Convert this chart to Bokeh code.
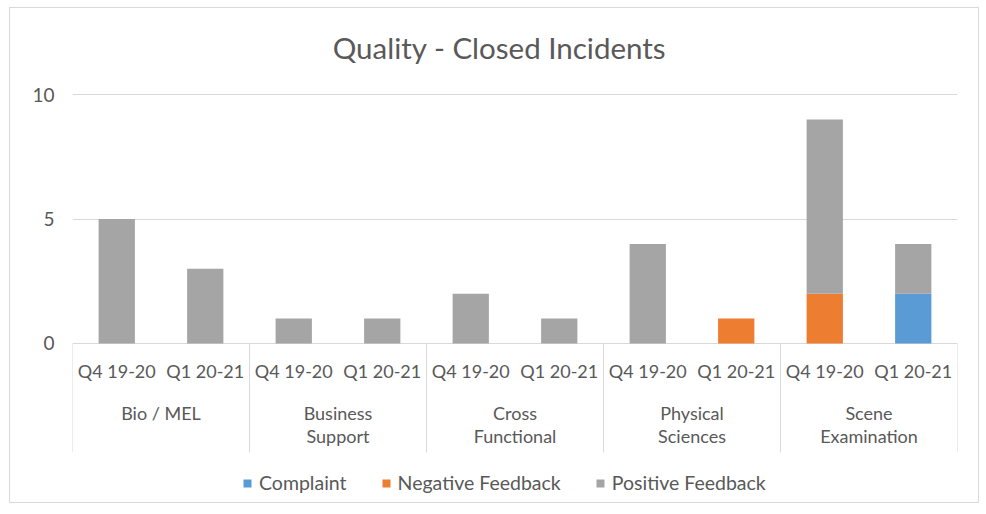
from bokeh.plotting import figure
from bokeh.models import Range1d, FixedTicker, ColumnDataSource
from bokeh.embed import file_html
from bokeh.resources import INLINE
from bokeh.core.properties import value

# ---- data ----
title_text = "Quality - Closed Incidents"
groups = ["Bio / MEL", "Business\nSupport", "Cross\nFunctional", "Physical\nSciences", "Scene\nExamination"]
quarters = ["Q4 19-20", "Q1 20-21"]
series = ["Complaint", "Negative Feedback", "Positive Feedback"]
complaint = [0, 0, 0, 0, 0, 0, 0, 0, 0, 2]
negative = [0, 0, 0, 0, 0, 0, 0, 1, 2, 0]
positive = [5, 3, 1, 1, 2, 1, 4, 0, 7, 2]
colors = ["#5B9BD5", "#ED7D31", "#A5A5A5"]
y_ticks = [0, 5, 10]

FONT = "Lato"
TXT = "#595959"
GRID = "#D9D9D9"

ng, nq = len(groups), len(quarters)
n = ng * nq
xs = [i + 0.5 for i in range(n)]
src = ColumnDataSource({"x": xs, series[0]: complaint, series[1]: negative, series[2]: positive})

p = figure(width=970, height=496,
           x_range=Range1d(0, 10), y_range=Range1d(-6.466, 13.454),
           output_backend="svg", toolbar_location=None,
           x_axis_location=None,
           min_border_left=62, min_border_right=23, min_border_top=0, min_border_bottom=0,
           margin=(7, 0, 0, 9),
           styles={"border": "1px solid #D9D9D9"})
p.outline_line_color = None
p.background_fill_color = "white"
p.border_fill_color = "white"

p.vbar_stack(series, x="x", width=0.41, color=colors, line_color=None, source=src,
             legend_label=series)

# grid / axis
p.xgrid.visible = False
p.ygrid.ticker = FixedTicker(ticks=y_ticks)
p.ygrid.grid_line_color = GRID
p.ygrid.grid_line_width = 1
ax = p.yaxis[0]
ax.ticker = FixedTicker(ticks=y_ticks)
ax.axis_line_color = None
ax.major_tick_line_color = None
ax.minor_tick_line_color = None
ax.major_tick_out = 0
ax.major_tick_in = 0
ax.major_label_standoff = 18
ax.major_label_text_font = FONT
ax.major_label_text_font_size = "19px"
ax.major_label_text_color = TXT

# category separators
sep_x = [g * nq for g in range(ng + 1)]
p.segment(x0=sep_x, y0=[0] * len(sep_x), x1=sep_x, y1=[-4.378] * len(sep_x),
          line_color=GRID, line_width=1)

# quarter labels
p.text(x=xs, y=[-1.1245] * n, text=[quarters[i % nq] for i in range(n)],
       text_align="center", text_baseline="middle",
       text_font=value(FONT), text_font_size="18px", text_color=TXT)

# group labels (two lines)
gx = [g * nq + nq / 2 for g in range(ng)]
line1 = [g.split("\n")[0] for g in groups]
line2 = [g.split("\n")[1] if "\n" in g else "" for g in groups]
p.text(x=gx, y=[-2.811] * ng, text=line1, text_align="center", text_baseline="middle",
       text_font=value(FONT), text_font_size="18px", text_color=TXT)
p.text(x=gx, y=[-3.735] * ng, text=line2, text_align="center", text_baseline="middle",
       text_font=value(FONT), text_font_size="18px", text_color=TXT)

# title
p.text(x=[4.825], y=[11.89], text=[title_text], text_align="center", text_baseline="middle",
       text_font=value(FONT), text_font_size="29.5px", text_color=TXT)

# legend
lg = p.legend[0]
lg.orientation = "horizontal"
lg.location = (170, 10)
lg.glyph_width = 10
lg.glyph_height = 10
lg.label_standoff = 7
lg.spacing = 34
lg.padding = 0
lg.margin = 0
lg.border_line_color = None
lg.background_fill_alpha = 0
lg.label_text_font = FONT
lg.label_text_font_size = "19.5px"
lg.label_text_color = TXT

open("out.html", "w").write(file_html(p, INLINE))
